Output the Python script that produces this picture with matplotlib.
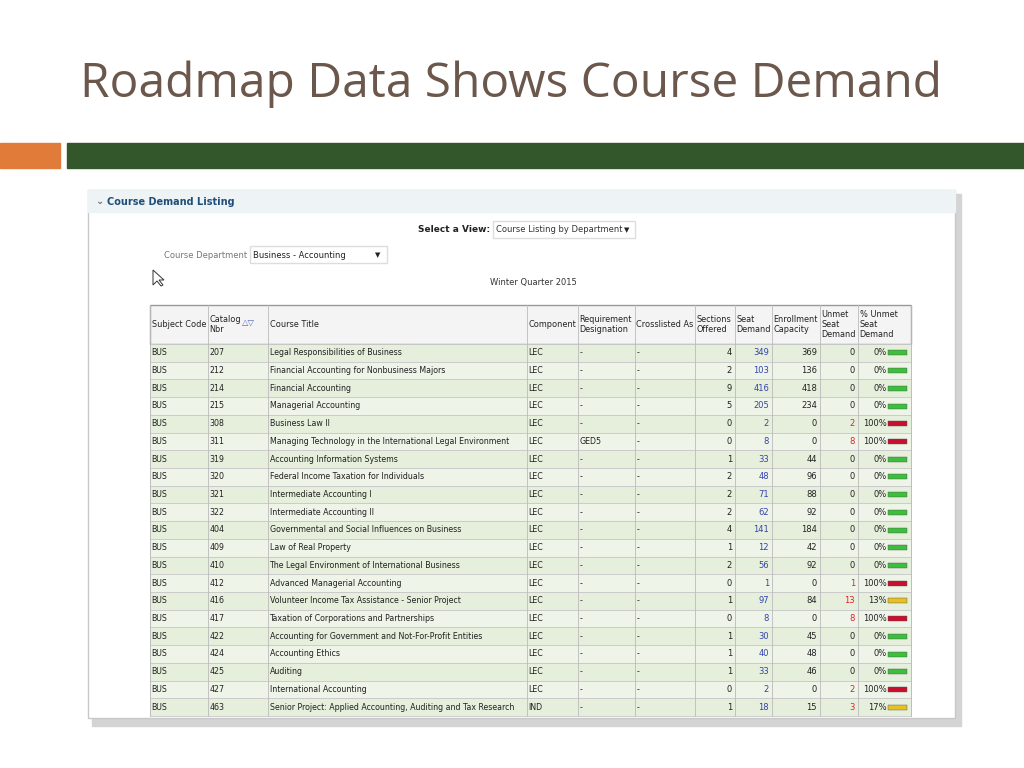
import matplotlib.pyplot as plt
from matplotlib.patches import Rectangle, Polygon

catalog = ["207", "212", "214", "215", "308", "311", "319", "320", "321", "322", "404",
           "409", "410", "412", "416", "417", "422", "424", "425", "427", "463"]
titles = ["Legal Responsibilities of Business",
          "Financial Accounting for Nonbusiness Majors",
          "Financial Accounting", "Managerial Accounting", "Business Law II",
          "Managing Technology in the International Legal Environment",
          "Accounting Information Systems", "Federal Income Taxation for Individuals",
          "Intermediate Accounting I", "Intermediate Accounting II",
          "Governmental and Social Influences on Business", "Law of Real Property",
          "The Legal Environment of International Business",
          "Advanced Managerial Accounting",
          "Volunteer Income Tax Assistance - Senior Project",
          "Taxation of Corporations and Partnerships",
          "Accounting for Government and Not-For-Profit Entities",
          "Accounting Ethics", "Auditing", "International Accounting",
          "Senior Project: Applied Accounting, Auditing and Tax Research"]
component = ["LEC"] * 20 + ["IND"]
requirement = ["-"] * 5 + ["GED5"] + ["-"] * 15
sections = [4, 2, 9, 5, 0, 0, 1, 2, 2, 2, 4, 1, 2, 0, 1, 0, 1, 1, 1, 0, 1]
seat_demand = [349, 103, 416, 205, 2, 8, 33, 48, 71, 62, 141, 12, 56, 1, 97, 8, 30, 40, 33, 2, 18]
capacity = [369, 136, 418, 234, 0, 0, 44, 96, 88, 92, 184, 42, 92, 0, 84, 0, 45, 48, 46, 0, 15]
unmet = [0, 0, 0, 0, 2, 8, 0, 0, 0, 0, 0, 0, 0, 1, 13, 8, 0, 0, 0, 2, 3]
pct_unmet = [0, 0, 0, 0, 100, 100, 0, 0, 0, 0, 0, 0, 0, 100, 13, 100, 0, 0, 0, 100, 17]
headers = ["Subject Code", "Catalog\nNbr", "Course Title", "Component",
           "Requirement\nDesignation", "Crosslisted As", "Sections\nOffered",
           "Seat\nDemand", "Enrollment\nCapacity", "Unmet\nSeat\nDemand", "% Unmet\nSeat\nDemand"]

fig = plt.figure(figsize=(10.24, 7.68), dpi=100)
ax = fig.add_axes([0, 0, 1, 1])
ax.set_xlim(0, 1024)
ax.set_ylim(768, 0)
ax.axis("off")

# slide title and bars
ax.text(80, 84, "Roadmap Data Shows Course Demand", fontsize=34.5, color="#6b574b",
        family="Open Sans", va="center")
ax.add_patch(Rectangle((0, 143), 60, 25, color="#e07b39"))
ax.add_patch(Rectangle((67, 143), 957, 25, color="#33562a"))

# panel with shadow
ax.add_patch(Rectangle((92, 194), 869, 532, color="#d4d4d4"))
ax.add_patch(Rectangle((88, 190), 867, 528, facecolor="white", edgecolor="#c8c8c8"))
ax.add_patch(Rectangle((88, 190), 867, 22, color="#eef3f6"))
ax.text(96, 201, "⌄", fontsize=7, color="#555", va="center")
ax.text(107, 202, "Course Demand Listing", fontsize=7, weight="bold", color="#1f4e79", va="center")
ax.text(490, 230, "Select a View:", fontsize=6.5, weight="bold", ha="right", va="center", color="#222")
ax.add_patch(Rectangle((493, 221), 142, 17, facecolor="white", edgecolor="#ddd"))
ax.text(496, 230, "Course Listing by Department", fontsize=6, va="center", color="#333")
ax.text(624, 230, "▼", fontsize=5, va="center", color="#222")
ax.text(164, 255, "Course Department", fontsize=6, va="center", color="#777")
ax.add_patch(Rectangle((250, 246), 137, 17, facecolor="white", edgecolor="#ddd"))
ax.text(253, 255, "Business - Accounting", fontsize=6, va="center", color="#222")
ax.text(375, 255, "▼", fontsize=5, va="center", color="#222")
ax.text(533, 282, "Winter Quarter 2015", fontsize=6, ha="center", va="center", color="#333")

# table
cols = [150, 208, 268, 527, 578, 635, 695, 735, 772, 820, 858, 911]
top, hbot = 305, 344
rh = (716 - hbot) / len(catalog)
ax.add_patch(Rectangle((150, top), 761, hbot - top, facecolor="#f4f4f4", edgecolor="#999"))
for j, h in enumerate(headers):
    ax.text(cols[j] + 1.5, (top + hbot) / 2, h, fontsize=5.9, va="center",
            color="#222", linespacing=1.1)
ax.text(242, 322, "△▽", fontsize=6, color="#5566bb", va="center")

pct_color = {0: "#3cbf3c", 100: "#c8102e"}
for i in range(len(catalog)):
    y0 = hbot + i * rh
    yc = y0 + rh / 2
    ax.add_patch(Rectangle((150, y0), 761, rh,
                           facecolor="#e6efdc" if i % 2 == 0 else "#eef4e8",
                           edgecolor="#c8c8c8", lw=0.6))
    vals = ["BUS", catalog[i], titles[i], component[i], requirement[i], "-"]
    for j, v in enumerate(vals):
        ax.text(cols[j] + 1.5, yc, v, fontsize=5.7, va="center", color="#222")
    ax.text(cols[7] - 3, yc, str(sections[i]), fontsize=6, va="center", ha="right", color="#222")
    ax.text(cols[8] - 3, yc, str(seat_demand[i]), fontsize=6, va="center", ha="right", color="#3344aa")
    ax.text(cols[9] - 3, yc, str(capacity[i]), fontsize=6, va="center", ha="right", color="#222")
    ax.text(cols[10] - 3, yc, str(unmet[i]), fontsize=6, va="center", ha="right",
            color="#e0202a" if unmet[i] else "#222")
    ax.text(cols[10] + 29, yc, f"{pct_unmet[i]}%", fontsize=6, va="center", ha="right", color="#222")
    ax.add_patch(Rectangle((cols[10] + 30, yc - 2.5), 19, 5,
                           facecolor=pct_color.get(pct_unmet[i], "#e8c020"), edgecolor="#555", lw=0.3))
for x in cols:
    ax.plot([x, x], [top, 716], color="#bbb", lw=0.6)

# cursor
ax.add_patch(Polygon([[153, 270], [153, 285], [157, 281], [161, 286], [163, 285], [159, 280], [164, 280]],
                     closed=True, facecolor="white", edgecolor="#333", lw=0.7))

fig.savefig("out.png", dpi=100, facecolor="white")
